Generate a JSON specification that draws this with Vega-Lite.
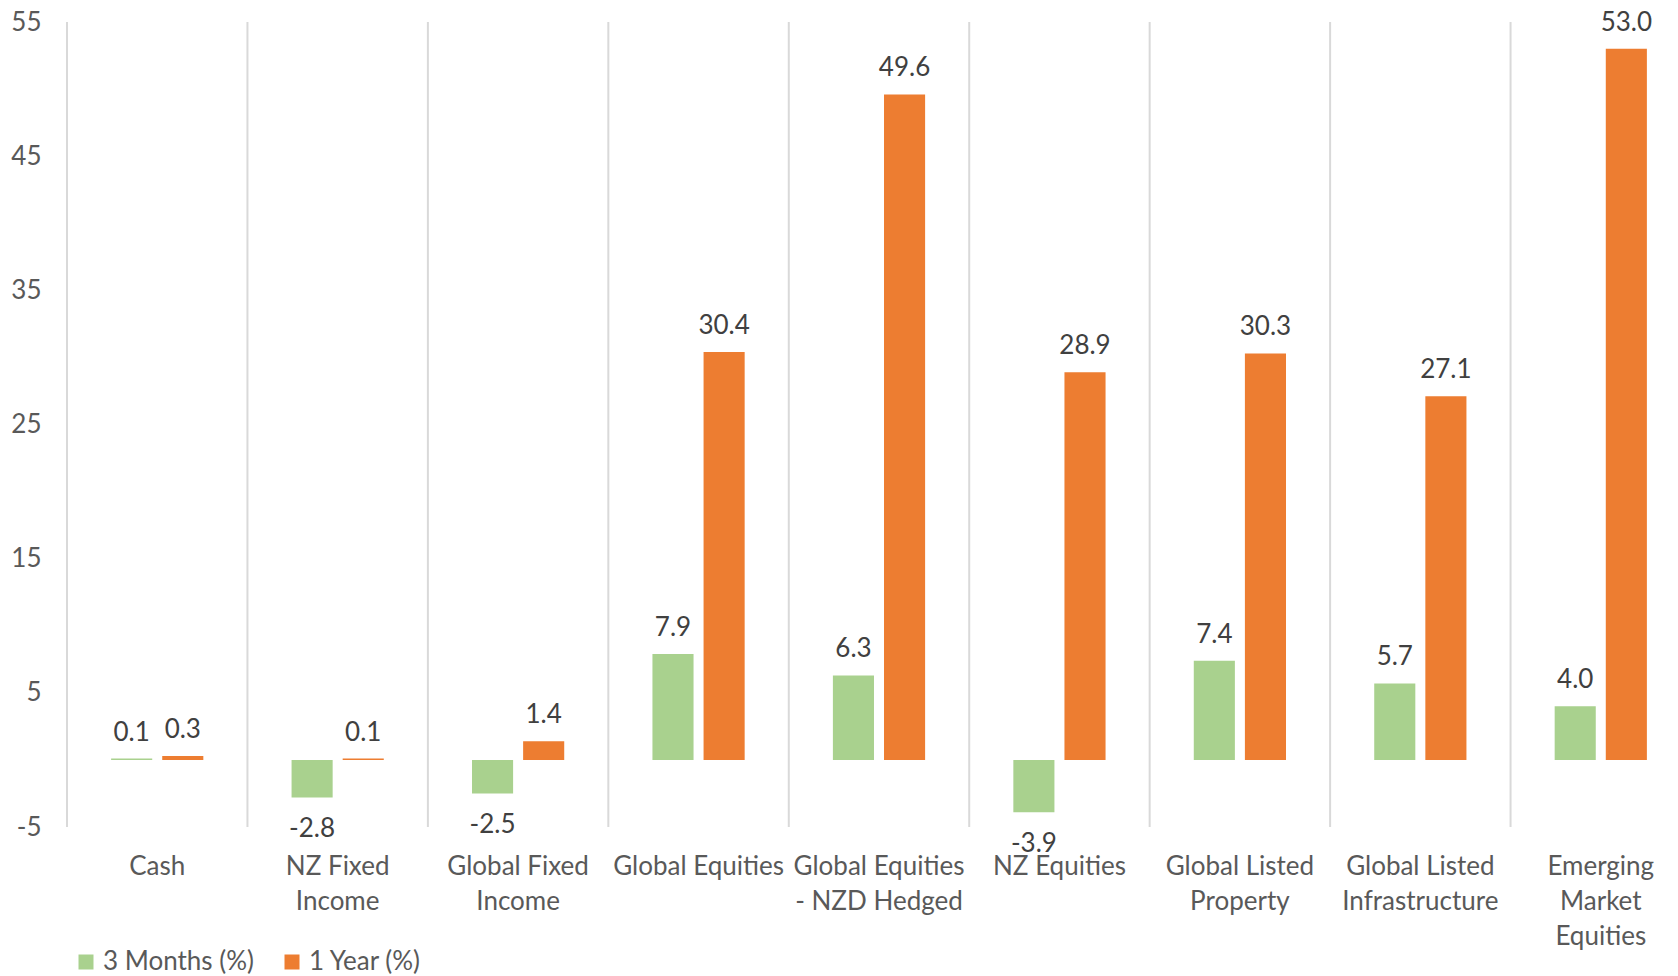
{
  "$schema": "https://vega.github.io/schema/vega-lite/v6.json",
  "autosize": {"type": "none"},
  "padding": {"left": 67, "top": 22, "right": 0, "bottom": 149},
  "width": 1611,
  "height": 805,
  "background": "white",
  "config": {
    "view": {"stroke": null},
    "font": "Lato",
    "locale": {"number": {"decimal": ".", "thousands": ",", "grouping": [3], "currency": ["$", ""], "minus": "-"}}
  },
  "data": {
    "values": [
      {"category": "Cash", "period": "3 Months (%)", "value": 0.1},
      {"category": "Cash", "period": "1 Year (%)", "value": 0.3},
      {"category": "NZ Fixed Income", "period": "3 Months (%)", "value": -2.8},
      {"category": "NZ Fixed Income", "period": "1 Year (%)", "value": 0.1},
      {"category": "Global Fixed Income", "period": "3 Months (%)", "value": -2.5},
      {"category": "Global Fixed Income", "period": "1 Year (%)", "value": 1.4},
      {"category": "Global Equities", "period": "3 Months (%)", "value": 7.9},
      {"category": "Global Equities", "period": "1 Year (%)", "value": 30.4},
      {"category": "Global Equities - NZD Hedged", "period": "3 Months (%)", "value": 6.3},
      {"category": "Global Equities - NZD Hedged", "period": "1 Year (%)", "value": 49.6},
      {"category": "NZ Equities", "period": "3 Months (%)", "value": -3.9},
      {"category": "NZ Equities", "period": "1 Year (%)", "value": 28.9},
      {"category": "Global Listed Property", "period": "3 Months (%)", "value": 7.4},
      {"category": "Global Listed Property", "period": "1 Year (%)", "value": 30.3},
      {"category": "Global Listed Infrastructure", "period": "3 Months (%)", "value": 5.7},
      {"category": "Global Listed Infrastructure", "period": "1 Year (%)", "value": 27.1},
      {"category": "Emerging Market Equities", "period": "3 Months (%)", "value": 4.0},
      {"category": "Emerging Market Equities", "period": "1 Year (%)", "value": 53.0}
    ]
  },
  "encoding": {
    "x": {
      "field": "category",
      "type": "nominal",
      "sort": null,
      "scale": {"paddingInner": 0, "paddingOuter": 0, "range": [0, 1624]},
      "axis": {
        "title": null,
        "labelAngle": 0,
        "domain": false,
        "ticks": false,
        "grid": false,
        "labelFontSize": 26,
        "labelColor": "#595959",
        "labelPadding": 26,
        "labelLineHeight": 35,
        "labelBaseline": "top",
        "labelLimit": 400,
        "labelExpr": "datum.value == 'NZ Fixed Income' ? ['NZ Fixed','Income'] : datum.value == 'Global Fixed Income' ? ['Global Fixed','Income'] : datum.value == 'Global Equities - NZD Hedged' ? ['Global Equities','- NZD Hedged'] : datum.value == 'Global Listed Property' ? ['Global Listed','Property'] : datum.value == 'Global Listed Infrastructure' ? ['Global Listed','Infrastructure'] : datum.value == 'Emerging Market Equities' ? ['Emerging','Market','Equities'] : datum.label"
      }
    }
  },
  "layer": [
    {
      "transform": [{"filter": "datum.period == '3 Months (%)'"}],
      "mark": {"type": "rule", "color": "#d9d9d9", "strokeWidth": 2},
      "encoding": {
        "x": {"field": "category", "type": "nominal", "sort": null, "bandPosition": 0}
      }
    },
    {
      "mark": {"type": "bar"},
      "encoding": {
        "xOffset": {
          "field": "period",
          "type": "nominal",
          "sort": ["3 Months (%)", "1 Year (%)"],
          "scale": {"paddingInner": 0.196, "paddingOuter": 0.863}
        },
        "y": {
          "field": "value",
          "type": "quantitative",
          "scale": {"domain": [-5, 55], "nice": false},
          "axis": {
            "title": null,
            "values": [-5, 5, 15, 25, 35, 45, 55],
            "domain": false,
            "ticks": false,
            "grid": false,
            "labelFontSize": 26,
            "labelColor": "#595959",
            "labelPadding": 26
          }
        },
        "y2": {"datum": 0},
        "color": {
          "field": "period",
          "type": "nominal",
          "sort": ["3 Months (%)", "1 Year (%)"],
          "scale": {"domain": ["3 Months (%)", "1 Year (%)"], "range": ["#a9d18e", "#ed7d31"]},
          "legend": {
            "title": null,
            "orient": "none",
            "legendX": 6,
            "legendY": 927,
            "direction": "horizontal",
            "symbolType": "square",
            "symbolSize": 225,
            "symbolStrokeWidth": 0,
            "labelFontSize": 26,
            "labelColor": "#595959",
            "labelOffset": 4,
            "columnPadding": 24,
            "padding": 0
          }
        }
      }
    },
    {
      "mark": {"type": "rule", "color": "black", "strokeWidth": 1.5},
      "encoding": {"y": {"datum": 0}}
    },
    {
      "transform": [{"filter": "datum.value >= 0"}],
      "mark": {"type": "text", "dy": -26, "baseline": "middle", "fontSize": 26, "color": "#404040"},
      "encoding": {
        "xOffset": {"field": "period", "type": "nominal", "sort": ["3 Months (%)", "1 Year (%)"]},
        "y": {"field": "value", "type": "quantitative"},
        "text": {"field": "value", "type": "quantitative", "format": ".1f"}
      }
    },
    {
      "transform": [{"filter": "datum.value < 0"}],
      "mark": {"type": "text", "dy": 32, "baseline": "middle", "fontSize": 26, "color": "#404040"},
      "encoding": {
        "xOffset": {"field": "period", "type": "nominal", "sort": ["3 Months (%)", "1 Year (%)"]},
        "y": {"field": "value", "type": "quantitative"},
        "text": {"field": "value", "type": "quantitative", "format": ".1f"}
      }
    }
  ]
}
